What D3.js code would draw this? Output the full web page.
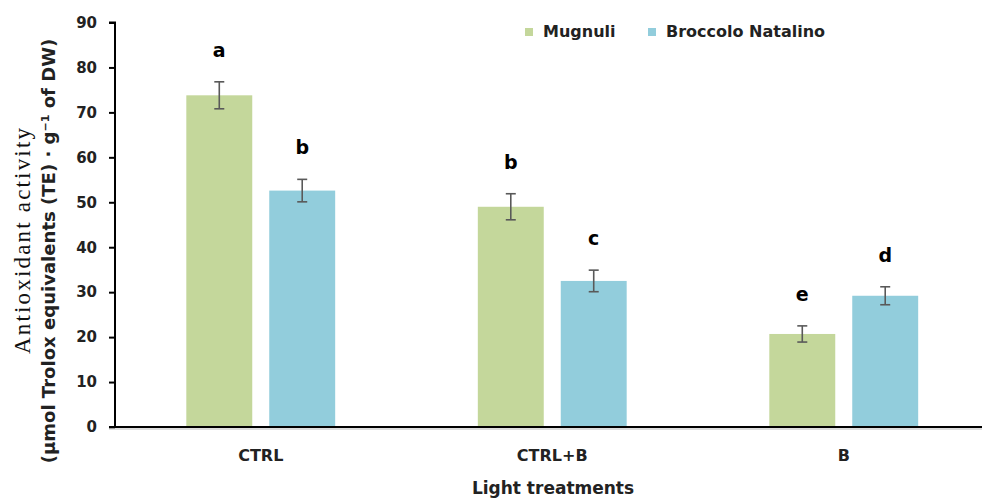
<!DOCTYPE html>
<html><head><meta charset="utf-8">
<script src="https://cdn.jsdelivr.net/npm/d3@7"></script>
<style>body{margin:0;background:#fff}svg{display:block}</style>
</head><body>
<svg id="c" width="982" height="499"></svg>
<script>
const categories = ["CTRL", "CTRL+B", "B"];
const seriesNames = ["Mugnuli", "Broccolo Natalino"];
const mugnuli = [73.8, 49.0, 20.7];
const broccolo = [52.6, 32.5, 29.2];
const mugnuliErr = [3.0, 2.9, 1.8];
const broccoloErr = [2.5, 2.4, 2.0];
const mugnuliLetters = ["a", "b", "e"];
const broccoloLetters = ["b", "c", "d"];
const yTicks = [0, 10, 20, 30, 40, 50, 60, 70, 80, 90];
const colors = ["#c4d79b", "#92cddc"];

(function(){
const svg = d3.select("#c");
const font = "'DejaVu Sans', sans-serif";
const pLeft = 115, pRight = 989.5, pTop = 22.5, pBottom = 427;

const x0 = d3.scaleBand().domain(categories).range([pLeft, pRight]).paddingInner(0).paddingOuter(0);
const x1 = d3.scaleBand().domain(seriesNames).range([0, x0.bandwidth()]).paddingInner(0.205).paddingOuter(0.86);
const y = d3.scaleLinear().domain([0, 90]).range([pBottom, pTop]);

const data = categories.map((c, i) => ({
  cat: c,
  vals: [
    {s: seriesNames[0], v: mugnuli[i], e: mugnuliErr[i], l: mugnuliLetters[i], c: colors[0]},
    {s: seriesNames[1], v: broccolo[i], e: broccoloErr[i], l: broccoloLetters[i], c: colors[1]}
  ]
}));

const g = svg.selectAll("g.grp").data(data).enter().append("g")
  .attr("transform", d => `translate(${x0(d.cat)},0)`);

g.selectAll("rect").data(d => d.vals).enter().append("rect")
  .attr("x", d => x1(d.s)).attr("width", x1.bandwidth())
  .attr("y", d => y(d.v)).attr("height", d => y(0) - y(d.v))
  .attr("fill", d => d.c);

const eb = g.selectAll("g.eb").data(d => d.vals).enter().append("g")
  .attr("stroke", "#595959").attr("stroke-width", 1.6);
const cx = d => x1(d.s) + x1.bandwidth()/2;
eb.append("line").attr("x1", cx).attr("x2", cx)
  .attr("y1", d => y(d.v + d.e)).attr("y2", d => y(d.v - d.e));
eb.append("line").attr("x1", d => cx(d) - 5).attr("x2", d => cx(d) + 5)
  .attr("y1", d => y(d.v + d.e)).attr("y2", d => y(d.v + d.e));
eb.append("line").attr("x1", d => cx(d) - 5).attr("x2", d => cx(d) + 5)
  .attr("y1", d => y(d.v - d.e)).attr("y2", d => y(d.v - d.e));

g.selectAll("text.lt").data(d => d.vals).enter().append("text")
  .attr("x", cx)
  .attr("y", d => y(d.v + d.e) - 25)
  .attr("text-anchor", "middle").attr("font-family", font).attr("font-weight", "bold")
  .attr("font-size", 19).attr("fill", "#000").text(d => d.l);

// Y axis
const yAxis = svg.append("g").attr("transform", `translate(${pLeft},0)`)
  .call(d3.axisLeft(y).tickValues(yTicks).tickSize(6).tickPadding(12));
yAxis.select(".domain").attr("stroke", "#000").attr("stroke-width", 2).attr("d", `M-6,${pTop}H0V${pBottom}`);
yAxis.selectAll(".tick line").attr("stroke", "#000").attr("stroke-width", 2);
yAxis.selectAll("text").attr("font-family", font).attr("font-weight", "bold").attr("font-size", 15).attr("fill", "#222");

// X axis
svg.append("line").attr("x1", pLeft - 6).attr("x2", 982).attr("y1", pBottom).attr("y2", pBottom)
  .attr("stroke", "#000").attr("stroke-width", 2);
svg.append("line").attr("x1", pLeft - 6).attr("x2", 982).attr("y1", pBottom + 2).attr("y2", pBottom + 2)
  .attr("stroke", "#bbb").attr("stroke-width", 1);
svg.selectAll("text.xl").data(categories).enter().append("text")
  .attr("x", d => x0(d) + x0.bandwidth()/2).attr("y", 461)
  .attr("text-anchor", "middle").attr("font-family", font).attr("font-weight", "bold")
  .attr("font-size", 16).attr("fill", "#222").text(d => d);

svg.append("text").attr("x", 553).attr("y", 494).attr("text-anchor", "middle")
  .attr("font-family", font).attr("font-weight", "bold").attr("font-size", 17).attr("fill", "#222")
  .text("Light treatments");

// Y label
svg.append("text").attr("transform", "translate(30,241) rotate(-90)")
  .attr("text-anchor", "middle")
  .attr("font-family", "'Liberation Serif', 'DejaVu Serif', serif").attr("font-size", 23).attr("fill", "#111")
  .attr("textLength", 226).attr("lengthAdjust", "spacing")
  .text("Antioxidant activity");
const t2 = svg.append("text").attr("transform", "translate(55,251) rotate(-90)").attr("text-anchor", "middle")
  .attr("font-family", font).attr("font-weight", "bold").attr("font-size", 16).attr("fill", "#222");
t2.append("tspan").text("(μmol Trolox equivalents (TE) · g");
t2.append("tspan").attr("dy", -6).attr("font-size", 11).text("−1");
t2.append("tspan").attr("dy", 6).text(" of DW)");
const w = t2.node().getComputedTextLength();
if (w > 0) t2.attr("font-size", 16 * 427 / w);

// Legend
const leg = svg.selectAll("g.leg").data(seriesNames).enter().append("g")
  .attr("transform", (d, i) => `translate(${[525, 648][i]},28)`);
leg.append("rect").attr("width", 8).attr("height", 8).attr("fill", (d, i) => colors[i]);
leg.append("text").attr("x", 18).attr("y", 9).attr("font-family", font).attr("font-weight", "bold")
  .attr("font-size", 16).attr("fill", "#222").text(d => d);
})();
</script>
</body></html>
